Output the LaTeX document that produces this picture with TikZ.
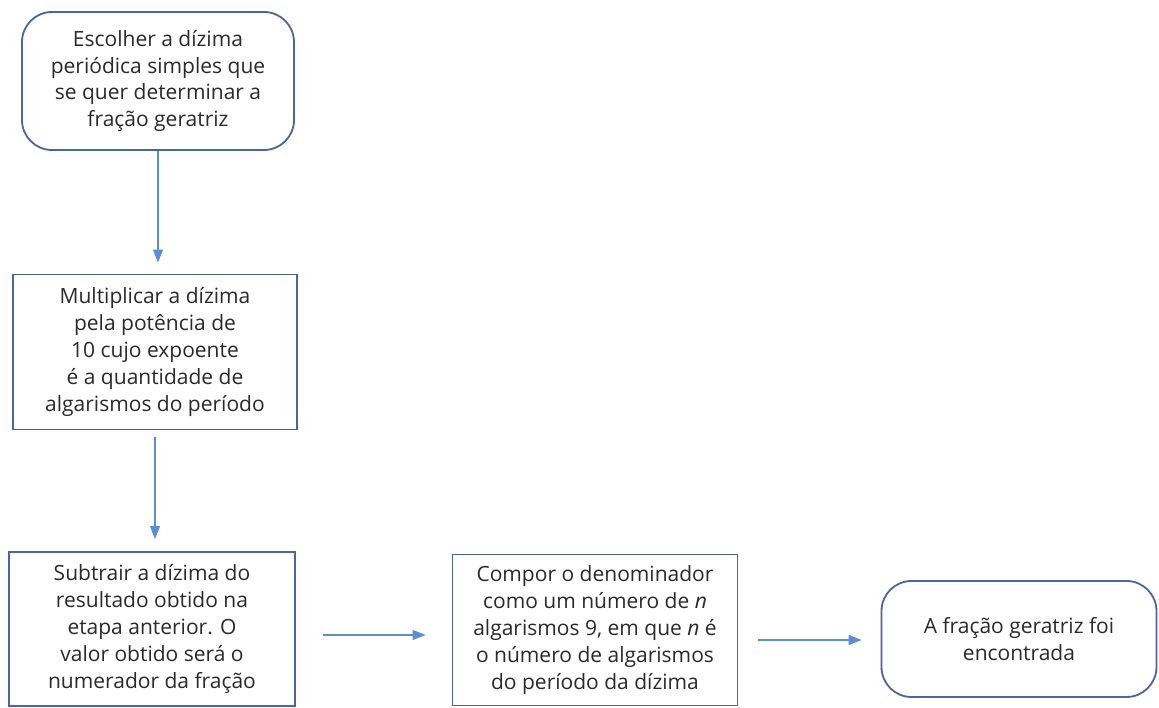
\documentclass[tikz,border=0pt]{standalone}
\usepackage{fontspec}
\setmainfont{Open Sans}
\usetikzlibrary{arrows.meta}
\definecolor{boxblue}{HTML}{4A64A4}
\definecolor{arrblue}{HTML}{5B8ED2}
\definecolor{txt}{HTML}{2A2A2A}
\tikzset{
  base/.style={draw=boxblue, line width=1.8pt, align=center, text=txt,
    font=\fontsize{21pt}{26.8pt}\selectfont, inner sep=0pt},
  roundbox/.style={base, rounded corners=30pt},
  sqbox/.style={base},
  conn/.style={draw=arrblue, line width=1.1pt, -{Triangle[length=13pt,width=10pt]}}
}
\begin{document}
\begin{tikzpicture}[x=1pt,y=1pt]
\useasboundingbox (0,0) rectangle (1159,708);
\node[roundbox, minimum width=272pt, minimum height=138pt] (b1) at (158,627)
  {Escolher a dízima\\periódica simples que\\se quer determinar a\\fração geratriz};
\node[sqbox, minimum width=284pt, minimum height=155pt] (b2) at (155,356)
  {Multiplicar a dízima\\pela potência de\\10 cujo expoente\\é a quantidade de\\algarismos do período};
\node[sqbox, minimum width=286pt, minimum height=154pt] (b3) at (152,79)
  {Subtrair a dízima do\\resultado obtido na\\etapa anterior. O\\valor obtido será o\\numerador da fração};
\node[sqbox, minimum width=285pt, minimum height=151pt] (b4) at (595,78)
  {Compor o denominador\\como um número de \textit{n}\\algarismos 9, em que \textit{n} é\\o número de algarismos\\do período da dízima};
\node[roundbox, minimum width=275pt, minimum height=116pt] (b5) at (1019,69)
  {A fração geratriz foi\\encontrada};
\draw[conn, shorten >=11pt] (b1.south) -- (b1.south |- b2.north);
\draw[conn, shorten <=7pt, shorten >=12pt] (b2.south) -- (b2.south |- b3.north);
\draw[conn, shorten <=27pt, shorten >=26pt] ([yshift=-6pt]b3.east) -- ([yshift=-6pt]b3.east -| b4.west);
\draw[conn, shorten <=20pt, shorten >=19pt] ([yshift=-10pt]b4.east) -- ([yshift=-10pt]b4.east -| b5.west);
\end{tikzpicture}
\end{document}
